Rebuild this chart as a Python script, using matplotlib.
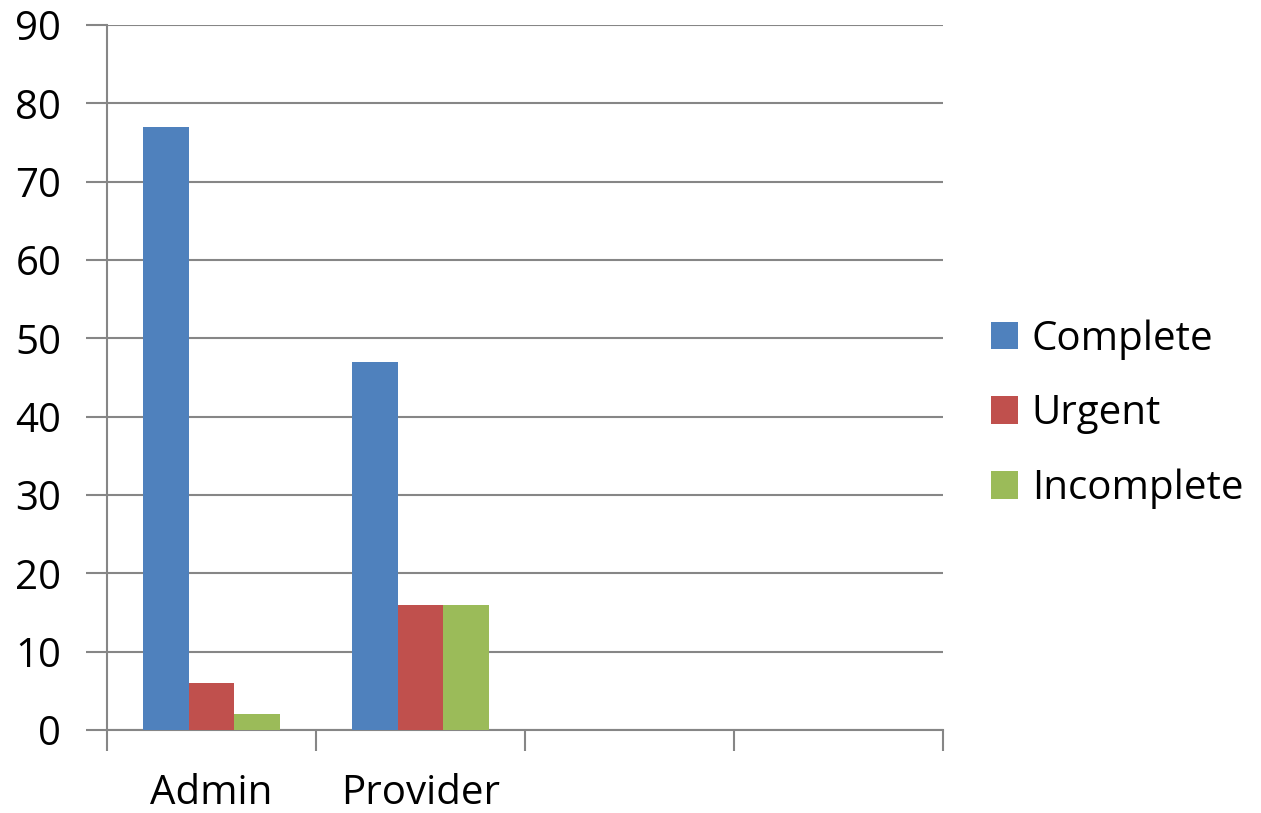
import numpy as np
import matplotlib
matplotlib.use("Agg")
import matplotlib.pyplot as plt
from matplotlib.patches import Patch

plt.rcParams['font.family'] = ['Open Sans', 'DejaVu Sans']

categories = ['Admin', 'Provider', '', '']
series = ['Complete', 'Urgent', 'Incomplete']
complete = [77, 47, 0, 0]
urgent = [6, 16, 0, 0]
incomplete = [2, 16, 0, 0]
colors = ['#4f81bd', '#c0504d', '#9bbb59']
grid_color = '#868686'
fs = 29

fig = plt.figure(figsize=(12.61, 8.13), dpi=100, facecolor='white')
ax = fig.add_axes([107 / 1261, 83 / 813, 836 / 1261, 705 / 813])

x = np.arange(len(categories))
w = 0.22
values = [complete, urgent, incomplete]
for i, (name, vals, c) in enumerate(zip(series, values, colors)):
    vals = np.array(vals, dtype=float)
    keep = vals > 0
    ax.bar(x[keep] + (i - 1) * w, vals[keep], width=w, color=c, label=name,
           edgecolor='none', zorder=3)

ax.set_xlim(-0.5, len(categories) - 0.5)
ax.set_ylim(0, 90)
ax.set_yticks(range(0, 91, 10))
ax.yaxis.grid(True, color=grid_color, linewidth=1.5, zorder=0)
ax.set_axisbelow(True)

# category labels sit between the boundary ticks
ax.set_xticks(np.arange(len(categories) + 1) - 0.5)
ax.set_xticklabels([])
ax.set_xticks(x, minor=True)
ax.set_xticklabels(categories, minor=True)
ax.tick_params(axis='x', which='major', length=15, width=1.5, color=grid_color)
ax.tick_params(axis='x', which='minor', length=0, pad=31, labelsize=fs)
ax.tick_params(axis='y', length=15, width=1.5, color=grid_color, labelsize=fs, pad=18)

for s in ['top', 'right']:
    ax.spines[s].set_visible(False)
ax.spines['left'].set_color(grid_color)
ax.spines['left'].set_linewidth(1.5)
ax.spines['bottom'].set_color(grid_color)
ax.spines['bottom'].set_linewidth(1.5)

handles = [Patch(facecolor=c, edgecolor='none', label=n) for n, c in zip(series, colors)]
fig.legend(handles=handles, loc='center left', bbox_to_anchor=(991 / 1261, 1 - 414 / 813),
           frameon=False, fontsize=fs, handlelength=0.68, handleheight=0.68,
           handletextpad=0.33, labelspacing=0.85, borderaxespad=0, borderpad=0)

fig.savefig('out.png', dpi=100, facecolor='white')
